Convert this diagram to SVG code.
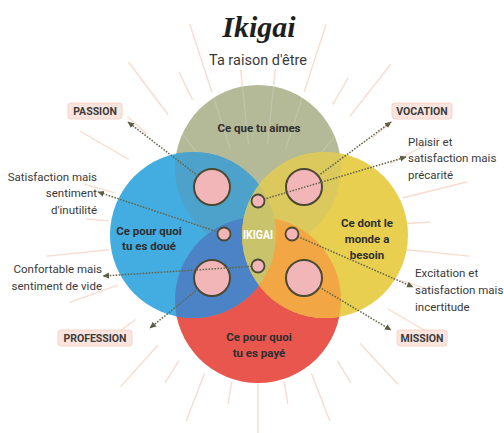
<svg xmlns="http://www.w3.org/2000/svg" width="504" height="433" viewBox="0 0 504 433">
  <style>
    .ray { stroke: #f8dcd0; stroke-width: 1.4; stroke-linecap: round; }
    .glow { stroke: #ffffff; stroke-opacity: 0.16; stroke-width: 1.4; }
    .big { fill: #f3b6b8; stroke: #4b4834; stroke-width: 2; }
    .dot { fill: #f3b6b8; stroke: #4b4834; stroke-width: 1.8; }
    .link { fill: none; stroke: #66664c; stroke-width: 1.5; stroke-dasharray: 1.6 1.4; marker-end: url(#arrow); }
    .tag { fill: #fbe4dd; stroke: #f6d3c8; stroke-width: 1; }
    .tagtxt { font-family: Roboto, "Liberation Sans", sans-serif; font-size: 10.5px; font-weight: 700; fill: #3c3c3c; text-anchor: middle; }
    .note { font-family: Roboto, "Liberation Sans", sans-serif; font-size: 11.5px; fill: #3a3a3a; }
    .zone { font-family: Roboto, "Liberation Sans", sans-serif; font-size: 11.5px; font-weight: 700; fill: #2f2f2f; text-anchor: middle; }
  </style>
  <defs>
    <marker id="arrow" markerWidth="7" markerHeight="7" refX="6" refY="3.5" orient="auto" markerUnits="userSpaceOnUse">
      <path d="M0,0.5 L6.5,3.5 L0,6.5 Z" fill="#5d5d44"/>
    </marker>
    <clipPath id="cGreen"><circle cx="258" cy="168" r="83"/></clipPath>
    <clipPath id="cRed"><circle cx="258" cy="300" r="83"/></clipPath>
    <clipPath id="cYellow"><circle cx="325" cy="235" r="83"/></clipPath>
  </defs>

  <rect width="504" height="433" fill="#ffffff"/>

  <!-- sun rays behind the circles -->
  <g id="rays">
    <line class="ray" x1="408" y1="234" x2="438" y2="234" transform="rotate(-164 258 234)"/>
    <line class="ray" x1="408" y1="234" x2="463" y2="234" transform="rotate(-150 258 234)"/>
    <line class="ray" x1="408" y1="234" x2="433" y2="234" transform="rotate(-138 258 234)"/>
    <line class="ray" x1="408" y1="234" x2="473" y2="234" transform="rotate(-127 258 234)"/>
    <line class="ray" x1="408" y1="234" x2="438" y2="234" transform="rotate(-116 258 234)"/>
    <line class="ray" x1="408" y1="234" x2="478" y2="234" transform="rotate(-108 258 234)"/>
    <line class="ray" x1="408" y1="234" x2="423" y2="234" transform="rotate(-96 258 234)"/>
    <line class="ray" x1="408" y1="234" x2="423" y2="234" transform="rotate(-84 258 234)"/>
    <line class="ray" x1="408" y1="234" x2="478" y2="234" transform="rotate(-72 258 234)"/>
    <line class="ray" x1="408" y1="234" x2="438" y2="234" transform="rotate(-60 258 234)"/>
    <line class="ray" x1="408" y1="234" x2="473" y2="234" transform="rotate(-52 258 234)"/>
    <line class="ray" x1="408" y1="234" x2="433" y2="234" transform="rotate(-40 258 234)"/>
    <line class="ray" x1="408" y1="234" x2="463" y2="234" transform="rotate(-28 258 234)"/>
    <line class="ray" x1="408" y1="234" x2="473" y2="234" transform="rotate(-14 258 234)"/>
    <line class="ray" x1="408" y1="234" x2="430" y2="234" transform="rotate(-4 258 234)"/>
    <line class="ray" x1="408" y1="234" x2="470" y2="234" transform="rotate(6 258 234)"/>
    <line class="ray" x1="408" y1="234" x2="438" y2="234" transform="rotate(18 258 234)"/>
    <line class="ray" x1="408" y1="234" x2="463" y2="234" transform="rotate(30 258 234)"/>
    <line class="ray" x1="408" y1="234" x2="463" y2="234" transform="rotate(47 258 234)"/>
    <line class="ray" x1="408" y1="234" x2="433" y2="234" transform="rotate(58 258 234)"/>
    <line class="ray" x1="408" y1="234" x2="458" y2="234" transform="rotate(69 258 234)"/>
    <line class="ray" x1="408" y1="234" x2="430" y2="234" transform="rotate(80 258 234)"/>
    <line class="ray" x1="408" y1="234" x2="458" y2="234" transform="rotate(90 258 234)"/>
    <line class="ray" x1="408" y1="234" x2="430" y2="234" transform="rotate(100 258 234)"/>
    <line class="ray" x1="408" y1="234" x2="458" y2="234" transform="rotate(111 258 234)"/>
    <line class="ray" x1="408" y1="234" x2="433" y2="234" transform="rotate(122 258 234)"/>
    <line class="ray" x1="408" y1="234" x2="463" y2="234" transform="rotate(132 258 234)"/>
    <line class="ray" x1="408" y1="234" x2="438" y2="234" transform="rotate(145 258 234)"/>
    <line class="ray" x1="408" y1="234" x2="458" y2="234" transform="rotate(160 258 234)"/>
    <line class="ray" x1="408" y1="234" x2="470" y2="234" transform="rotate(174 258 234)"/>
    <line class="ray" x1="408" y1="234" x2="430" y2="234" transform="rotate(185 258 234)"/>
  </g>

  <!-- title -->
  <text x="259" y="37" text-anchor="middle" font-family="'Liberation Serif', 'DejaVu Serif', serif" font-size="30" font-style="italic" font-weight="700" fill="#1e1e1e">Ikigai</text>
  <text x="258" y="65" text-anchor="middle" font-family="Roboto, 'Liberation Sans', sans-serif" font-size="14.5" fill="#3a3a3a">Ta raison d'être</text>

  <!-- the four circles and their overlaps -->
  <g id="circles">
    <g id="aimes">
      <circle cx="258" cy="168" r="83" fill="#b4b998"/>
      <g clip-path="url(#cGreen)">
        <line class="glow" x1="348" y1="234" x2="408" y2="234" transform="rotate(-127 258 234)"/>
        <line class="glow" x1="348" y1="234" x2="408" y2="234" transform="rotate(-108 258 234)"/>
        <line class="glow" x1="348" y1="234" x2="408" y2="234" transform="rotate(-96 258 234)"/>
        <line class="glow" x1="348" y1="234" x2="408" y2="234" transform="rotate(-84 258 234)"/>
        <line class="glow" x1="348" y1="234" x2="408" y2="234" transform="rotate(-72 258 234)"/>
        <line class="glow" x1="348" y1="234" x2="408" y2="234" transform="rotate(-52 258 234)"/>
      </g>
    </g>
    <circle id="paye" cx="258" cy="300" r="83" fill="#e8564e"/>
    <circle id="doue" cx="193" cy="235" r="83" fill="#43ace0"/>
    <circle id="besoin" cx="325" cy="235" r="83" fill="#e8cf50"/>
    <!-- overlaps -->
    <circle cx="193" cy="235" r="83" fill="#4da2cc" clip-path="url(#cGreen)"/>
    <circle cx="325" cy="235" r="83" fill="#dbc95d" clip-path="url(#cGreen)"/>
    <circle cx="193" cy="235" r="83" fill="#4b83c6" clip-path="url(#cRed)"/>
    <circle cx="325" cy="235" r="83" fill="#f3a744" clip-path="url(#cRed)"/>
    <circle cx="193" cy="235" r="83" fill="#c9c46c" clip-path="url(#cYellow)"/>
  </g>

  <!-- circle captions -->
  <text class="zone" x="259" y="132">Ce que tu aimes</text>
  <text class="zone" x="149" y="235">Ce pour quoi</text>
  <text class="zone" x="149" y="250">tu es doué</text>
  <text class="zone" x="367" y="227">Ce dont le</text>
  <text class="zone" x="367" y="243">monde a</text>
  <text class="zone" x="367" y="259">besoin</text>
  <text class="zone" x="259" y="341">Ce pour quoi</text>
  <text class="zone" x="259" y="357">tu es payé</text>

  <!-- large markers -->
  <g id="passion-dot"><circle class="big" cx="212" cy="187" r="18"/></g>
  <g id="vocation-dot"><circle class="big" cx="304" cy="187" r="18"/></g>
  <g id="profession-dot"><circle class="big" cx="212" cy="278" r="18"/></g>
  <g id="mission-dot"><circle class="big" cx="304" cy="278" r="18"/></g>

  <!-- connectors -->
  <g id="connectors">
    <line class="link" x1="198" y1="176" x2="128" y2="122"/>
    <line class="link" x1="318" y1="176" x2="391" y2="122"/>
    <line class="link" x1="198" y1="289" x2="150" y2="328"/>
    <line class="link" x1="319" y1="287" x2="391" y2="330"/>
    <line class="link" x1="224" y1="234" x2="98" y2="192"/>
    <line class="link" x1="258" y1="201" x2="406" y2="157"/>
    <line class="link" x1="258" y1="266" x2="103" y2="276"/>
    <line class="link" x1="292" y1="234" x2="413" y2="287"/>
  </g>

  <!-- small markers -->
  <g id="top-dot"><circle class="dot" cx="258" cy="201" r="6.5"/></g>
  <g id="left-dot"><circle class="dot" cx="224" cy="234" r="6.5"/></g>
  <g id="right-dot"><circle class="dot" cx="292" cy="234" r="6.5"/></g>
  <g id="bottom-dot"><circle class="dot" cx="258" cy="266" r="6.5"/></g>

  <g id="ikigai">
    <text x="258" y="238.5" text-anchor="middle" font-family="Roboto, 'Liberation Sans', sans-serif" font-size="12" font-weight="700" fill="#ffffff" textLength="30" lengthAdjust="spacingAndGlyphs">IKIGAI</text>
  </g>

  <!-- tags -->
  <g id="passion">
    <rect class="tag" x="68" y="103" width="54" height="16" rx="3"/>
    <text class="tagtxt" x="95" y="115">PASSION</text>
  </g>
  <g id="vocation">
    <rect class="tag" x="392" y="103" width="60" height="16" rx="3"/>
    <text class="tagtxt" x="422" y="115">VOCATION</text>
  </g>
  <g id="profession">
    <rect class="tag" x="58" y="330" width="74" height="16" rx="3"/>
    <text class="tagtxt" x="95" y="342">PROFESSION</text>
  </g>
  <g id="mission">
    <rect class="tag" x="397" y="330" width="50" height="16" rx="3"/>
    <text class="tagtxt" x="422" y="342">MISSION</text>
  </g>

  <!-- notes -->
  <g id="note-inutilite">
    <text class="note" x="97" y="181" text-anchor="end">Satisfaction mais</text>
    <text class="note" x="97" y="197" text-anchor="end">sentiment</text>
    <text class="note" x="97" y="214" text-anchor="end">d'inutilité</text>
  </g>
  <g id="note-precarite">
    <text class="note" x="408" y="146">Plaisir et</text>
    <text class="note" x="408" y="162">satisfaction mais</text>
    <text class="note" x="408" y="179">précarité</text>
  </g>
  <g id="note-vide">
    <text class="note" x="102" y="273" text-anchor="end">Confortable mais</text>
    <text class="note" x="102" y="290" text-anchor="end">sentiment de vide</text>
  </g>
  <g id="note-incertitude">
    <text class="note" x="415" y="277">Excitation et</text>
    <text class="note" x="415" y="294">satisfaction mais</text>
    <text class="note" x="415" y="311">incertitude</text>
  </g>
</svg>
